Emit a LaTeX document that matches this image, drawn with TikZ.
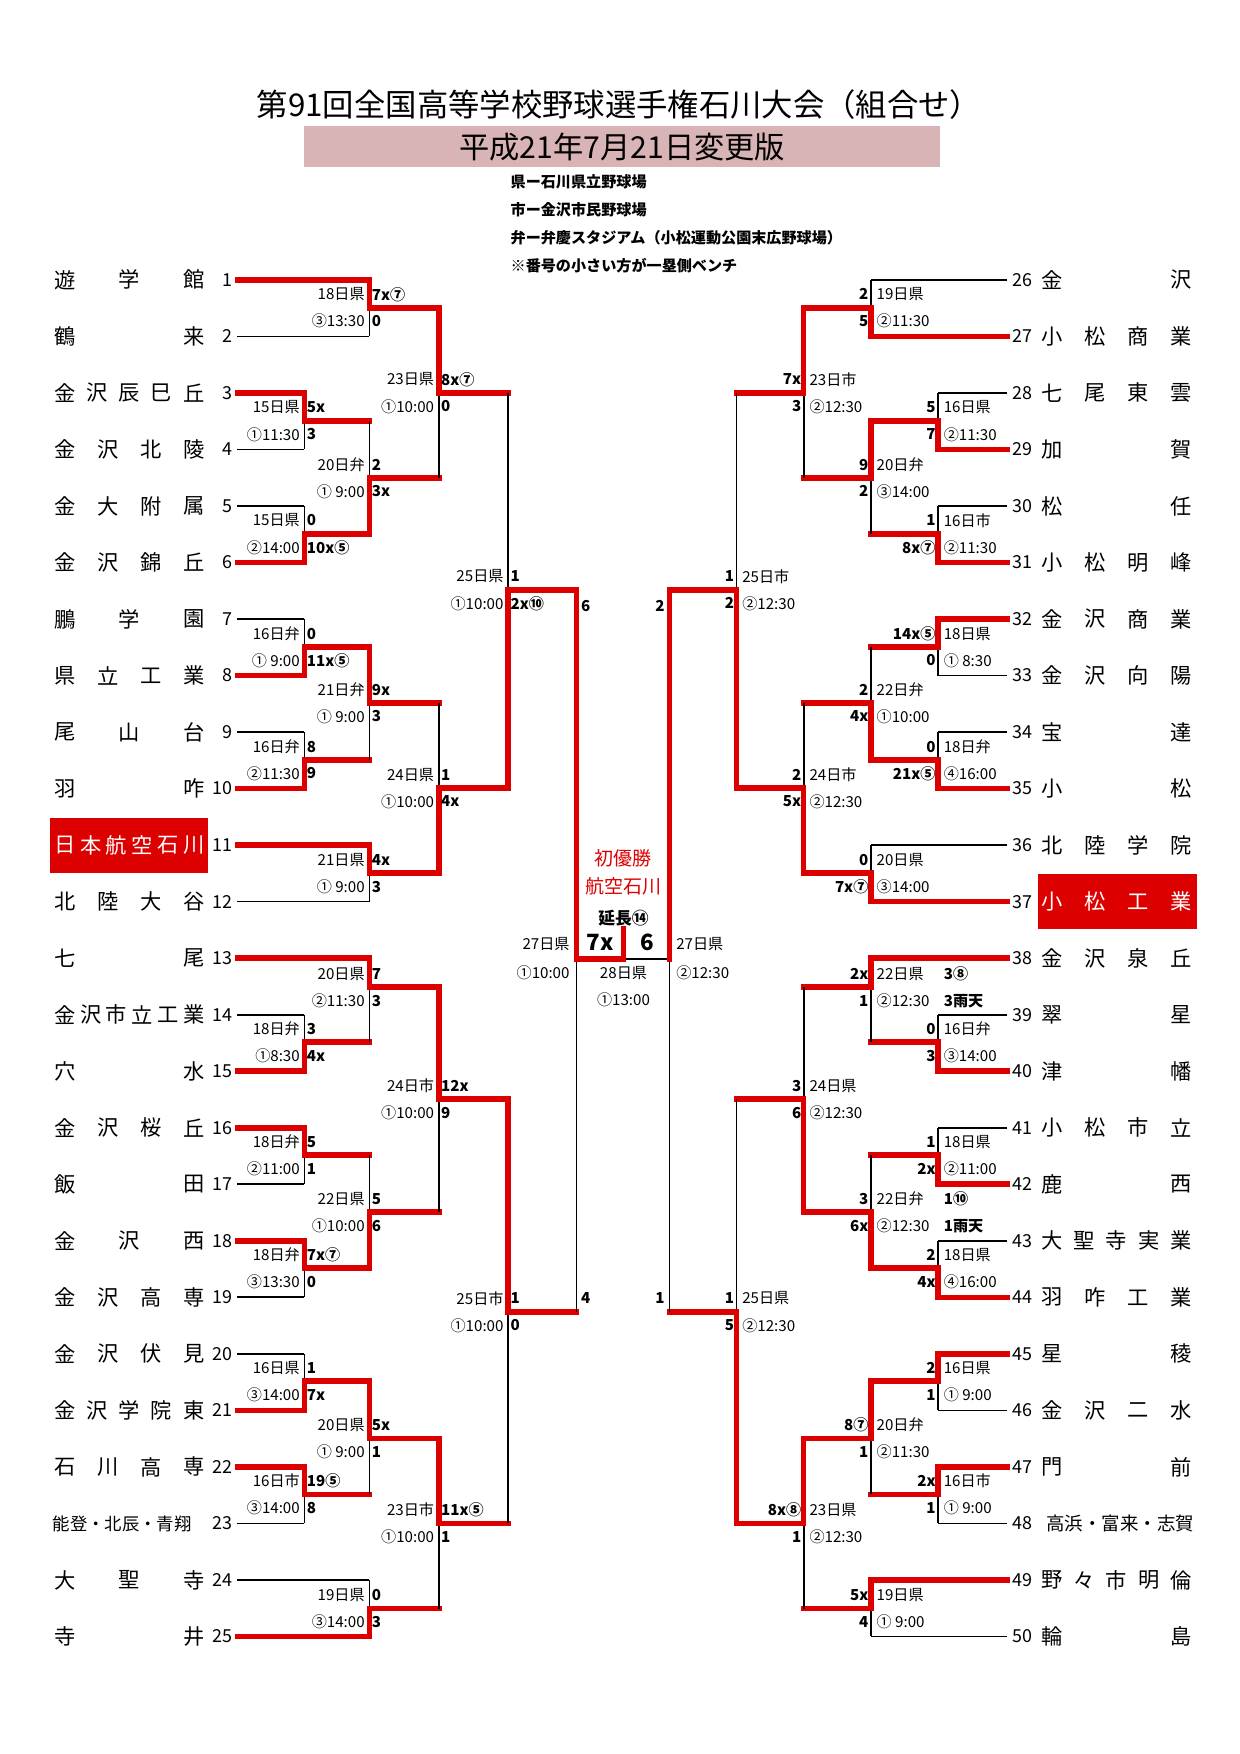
\documentclass[tikz,border=0pt]{standalone}
\usepackage{fontspec}
\setmainfont{Noto Sans CJK JP}
\usetikzlibrary{positioning}
\definecolor{winred}{RGB}{220,0,0}
\definecolor{bandpink}{RGB}{217,180,182}

% one match: name, vertical x, top y, bottom y, out y, out x, winner (t/b)
\newcommand\match[7]{%
  \coordinate (#1t) at (#2,#3);
  \coordinate (#1b) at (#2,#4);
  \coordinate (#1) at (#2,#5);
  \coordinate (#1o) at (#6,#5);
  \draw[thinl] (#1t) -- (#1b);
  \draw[redl] (#1#7) -- (#1) -- (#1o);}
% labels of a left match / right match: name, date, time, top score, bottom score
\newcommand\labL[5]{%
  \node[dlab, anchor=east] (#1d) at ([xshift=-4pt, yshift=12pt]#1) {#2};
  \node[dlab, anchor=east] (#1h) at ([xshift=-4pt, yshift=-12pt]#1) {#3};
  \node[slab, anchor=west] (#1s) at ([xshift=2pt, yshift=12pt]#1) {#4};
  \node[slab, anchor=west] (#1r) at ([xshift=2pt, yshift=-12pt]#1) {#5};}
\newcommand\labR[5]{%
  \node[dlab, anchor=west] (#1d) at ([xshift=5pt, yshift=12pt]#1) {#2};
  \node[dlab, anchor=west] (#1h) at ([xshift=5pt, yshift=-12pt]#1) {#3};
  \node[slab, anchor=east] (#1s) at ([xshift=-2pt, yshift=12pt]#1) {#4};
  \node[slab, anchor=east] (#1r) at ([xshift=-2pt, yshift=-12pt]#1) {#5};}
% team names spread over a fixed width: number, count of chars, chars, colour
\newcommand\teamL[4]{%
  \pgfmathsetmacro\ty{250+(#1-1)*50.5}
  \node[tnum, anchor=east] (nL#1) at (208,\ty) {#1};
  \coordinate (tL#1) at (212,\ty);
  \foreach \c [count=\i from 0] in {#3}
    \node[tname, text=#4] (cL#1-\i) at ({58+\i*115/(#2-1)},\ty) {\c};}
\newcommand\teamR[4]{%
  \pgfmathsetmacro\ty{250+(#1-26)*50.5}
  \node[tnum, anchor=west] (nR#1) at (904,\ty) {#1};
  \coordinate (tR#1) at (900,\ty);
  \foreach \c [count=\i from 0] in {#3}
    \node[tname, text=#4] (cR#1-\i) at ({940+\i*115/(#2-1)},\ty) {\c};}

\begin{document}
\begin{tikzpicture}[x=1pt, y=-1pt,
  thinl/.style={line width=1.5pt, black},
  redl/.style={line width=5pt, winred, line cap=rect, line join=miter},
  tname/.style={font=\fontsize{19}{19}\selectfont, inner sep=0pt},
  tnum/.style={font=\fontsize{16}{16}\selectfont, inner sep=0pt},
  dlab/.style={font=\fontsize{13.5}{13.5}\selectfont, inner sep=0pt},
  slab/.style={font=\fontsize{13.5}{13.5}\selectfont\bfseries, inner sep=0pt},
  note/.style={font=\fontsize{13.5}{13.5}\selectfont\bfseries, anchor=west, inner sep=0pt}
]
  \useasboundingbox (0,0) rectangle (1107,1567);

  % Heading
  \node[font=\fontsize{28}{28}\selectfont] (title) at (553,93) {第91回全国高等学校野球選手権石川大会（組合せ）};
  \fill[bandpink] (272,113) rectangle (840,149);
  \node[font=\fontsize{27}{27}\selectfont] (sub) at (556,131) {平成21年7月21日変更版};
  \node[note] (n1) at (456,162) {県ー石川県立野球場};
  \node[note] (n2) at (456,187) {市ー金沢市民野球場};
  \node[note] (n3) at (456,212) {弁ー弁慶スタジアム（小松運動公園末広野球場）};
  \node[note] (n4) at (456,237) {※番号の小さい方が一塁側ベンチ};

  % Highlight boxes
  \fill[winred] (45,731) rectangle (186,780);
  \fill[winred] (927,781) rectangle (1069,830);

  % Left teams
  \teamL{1}{3}{遊,学,館}{black}
  \teamL{2}{2}{鶴,来}{black}
  \teamL{3}{5}{金,沢,辰,巳,丘}{black}
  \teamL{4}{4}{金,沢,北,陵}{black}
  \teamL{5}{4}{金,大,附,属}{black}
  \teamL{6}{4}{金,沢,錦,丘}{black}
  \teamL{7}{3}{鵬,学,園}{black}
  \teamL{8}{4}{県,立,工,業}{black}
  \teamL{9}{3}{尾,山,台}{black}
  \teamL{10}{2}{羽,咋}{black}
  \teamL{11}{6}{日,本,航,空,石,川}{white}
  \teamL{12}{4}{北,陸,大,谷}{black}
  \teamL{13}{2}{七,尾}{black}
  \teamL{14}{6}{金,沢,市,立,工,業}{black}
  \teamL{15}{2}{穴,水}{black}
  \teamL{16}{4}{金,沢,桜,丘}{black}
  \teamL{17}{2}{飯,田}{black}
  \teamL{18}{3}{金,沢,西}{black}
  \teamL{19}{4}{金,沢,高,専}{black}
  \teamL{20}{4}{金,沢,伏,見}{black}
  \teamL{21}{5}{金,沢,学,院,東}{black}
  \teamL{22}{4}{石,川,高,専}{black}
  \node[tnum, anchor=east] (nL23) at (208,1361) {23};
  \coordinate (tL23) at (212,1361);
  \node[font=\fontsize{15.5}{15.5}\selectfont, anchor=west, inner sep=0pt] (cL23) at (47,1361) {能登・北辰・青翔};
  \teamL{24}{3}{大,聖,寺}{black}
  \teamL{25}{2}{寺,井}{black}

  % Right teams
  \teamR{26}{2}{金,沢}{black}
  \teamR{27}{4}{小,松,商,業}{black}
  \teamR{28}{4}{七,尾,東,雲}{black}
  \teamR{29}{2}{加,賀}{black}
  \teamR{30}{2}{松,任}{black}
  \teamR{31}{4}{小,松,明,峰}{black}
  \teamR{32}{4}{金,沢,商,業}{black}
  \teamR{33}{4}{金,沢,向,陽}{black}
  \teamR{34}{2}{宝,達}{black}
  \teamR{35}{2}{小,松}{black}
  \teamR{36}{4}{北,陸,学,院}{black}
  \teamR{37}{4}{小,松,工,業}{white}
  \teamR{38}{4}{金,沢,泉,丘}{black}
  \teamR{39}{2}{翠,星}{black}
  \teamR{40}{2}{津,幡}{black}
  \teamR{41}{4}{小,松,市,立}{black}
  \teamR{42}{2}{鹿,西}{black}
  \teamR{43}{5}{大,聖,寺,実,業}{black}
  \teamR{44}{4}{羽,咋,工,業}{black}
  \teamR{45}{2}{星,稜}{black}
  \teamR{46}{4}{金,沢,二,水}{black}
  \teamR{47}{2}{門,前}{black}
  \node[tnum, anchor=west] (nR48) at (904,1361) {48};
  \coordinate (tR48) at (900,1361);
  \node[font=\fontsize{16.5}{16.5}\selectfont, anchor=east, inner sep=0pt] (cR48) at (1067,1361) {高浜・富来・志賀};
  \teamR{49}{5}{野,々,市,明,倫}{black}
  \teamR{50}{2}{輪,島}{black}

  % Left matches
  \match{a1}{330}{250}{300.5}{275}{392}{t}
  \match{a2}{272}{351}{401.5}{376}{330}{t}
  \match{a3}{272}{452}{502.5}{477}{330}{b}
  \match{a4}{330}{376}{477}{427}{392}{b}
  \match{a5}{392}{275}{427}{351}{454}{t}
  \match{a6}{272}{553}{603.5}{578}{330}{b}
  \match{a7}{272}{654}{704.5}{679}{330}{b}
  \match{a8}{330}{578}{679}{628}{392}{t}
  \match{a9}{330}{755}{805.5}{780}{392}{t}
  \match{a10}{392}{628}{780}{704}{454}{b}
  \match{a11}{454}{351}{704}{527}{515}{b}
  \match{a12}{272}{906.5}{957}{931}{330}{b}
  \match{a13}{330}{856}{931}{882}{392}{t}
  \match{a14}{272}{1007.5}{1058}{1032}{330}{t}
  \match{a15}{272}{1108.5}{1159}{1133}{330}{t}
  \match{a16}{330}{1032}{1133}{1083}{392}{b}
  \match{a17}{392}{882}{1083}{982}{454}{t}
  \match{a18}{272}{1209.5}{1260}{1234}{330}{b}
  \match{a19}{272}{1310.5}{1361}{1335}{330}{t}
  \match{a20}{330}{1234}{1335}{1285}{392}{t}
  \match{a21}{330}{1411.5}{1462}{1437}{392}{b}
  \match{a22}{392}{1285}{1437}{1361}{454}{t}
  \match{a23}{454}{982}{1361}{1172}{515}{t}
  \labL{a1}{18日県}{③13:30}{7x⑦}{0}
  \labL{a2}{15日県}{①11:30}{5x}{3}
  \labL{a3}{15日県}{②14:00}{0}{10x⑤}
  \labL{a4}{20日弁}{① 9:00}{2}{3x}
  \labL{a5}{23日県}{①10:00}{8x⑦}{0}
  \labL{a6}{16日弁}{① 9:00}{0}{11x⑤}
  \labL{a7}{16日弁}{②11:30}{8}{9}
  \labL{a8}{21日弁}{① 9:00}{9x}{3}
  \labL{a9}{21日県}{① 9:00}{4x}{3}
  \labL{a10}{24日県}{①10:00}{1}{4x}
  \labL{a11}{25日県}{①10:00}{1}{2x⑩}
  \labL{a12}{18日弁}{①8:30}{3}{4x}
  \labL{a13}{20日県}{②11:30}{7}{3}
  \labL{a14}{18日弁}{②11:00}{5}{1}
  \labL{a15}{18日弁}{③13:30}{7x⑦}{0}
  \labL{a16}{22日県}{①10:00}{5}{6}
  \labL{a17}{24日市}{①10:00}{12x}{9}
  \labL{a18}{16日県}{③14:00}{1}{7x}
  \labL{a19}{16日市}{③14:00}{19⑤}{8}
  \labL{a20}{20日県}{① 9:00}{5x}{1}
  \labL{a21}{19日県}{③14:00}{0}{3}
  \labL{a22}{23日市}{①10:00}{11x⑤}{1}
  \labL{a23}{25日市}{①10:00}{1}{0}

  % Right matches
  \match{b1}{778}{250}{300.5}{275}{718}{b}
  \match{b2}{838}{351}{401.5}{376}{778}{b}
  \match{b3}{838}{452}{502.5}{477}{778}{b}
  \match{b4}{778}{376}{477}{427}{718}{t}
  \match{b5}{718}{275}{427}{351}{658}{t}
  \match{b6}{838}{553}{603.5}{578}{778}{t}
  \match{b7}{838}{654}{704.5}{679}{778}{b}
  \match{b8}{778}{578}{679}{628}{718}{b}
  \match{b9}{778}{755}{805.5}{780}{718}{b}
  \match{b10}{718}{628}{780}{704}{658}{b}
  \match{b11}{658}{351}{704}{527}{598}{b}
  \match{b12}{838}{906.5}{957}{931}{778}{b}
  \match{b13}{778}{856}{931}{882}{718}{t}
  \match{b14}{838}{1007.5}{1058}{1032}{778}{b}
  \match{b15}{838}{1108.5}{1159}{1133}{778}{b}
  \match{b16}{778}{1032}{1133}{1083}{718}{b}
  \match{b17}{718}{882}{1083}{982}{658}{b}
  \match{b18}{838}{1209.5}{1260}{1234}{778}{t}
  \match{b19}{838}{1310.5}{1361}{1335}{778}{t}
  \match{b20}{778}{1234}{1335}{1285}{718}{t}
  \match{b21}{778}{1411.5}{1462}{1437}{718}{t}
  \match{b22}{718}{1285}{1437}{1361}{658}{t}
  \match{b23}{658}{982}{1361}{1172}{598}{b}
  \labR{b1}{19日県}{②11:30}{2}{5}
  \labR{b2}{16日県}{②11:30}{5}{7}
  \labR{b3}{16日市}{②11:30}{1}{8x⑦}
  \labR{b4}{20日弁}{③14:00}{9}{2}
  \labR{b5}{23日市}{②12:30}{7x}{3}
  \labR{b6}{18日県}{① 8:30}{14x⑤}{0}
  \labR{b7}{18日弁}{④16:00}{0}{21x⑤}
  \labR{b8}{22日弁}{①10:00}{2}{4x}
  \labR{b9}{20日県}{③14:00}{0}{7x⑦}
  \labR{b10}{24日市}{②12:30}{2}{5x}
  \labR{b11}{25日市}{②12:30}{1}{2}
  \labR{b12}{16日弁}{③14:00}{0}{3}
  \labR{b13}{22日県}{②12:30}{2x}{1}
  \labR{b14}{18日県}{②11:00}{1}{2x}
  \labR{b15}{18日県}{④16:00}{2}{4x}
  \labR{b16}{22日弁}{②12:30}{3}{6x}
  \labR{b17}{24日県}{②12:30}{3}{6}
  \labR{b18}{16日県}{① 9:00}{2}{1}
  \labR{b19}{16日市}{① 9:00}{2x}{1}
  \labR{b20}{20日弁}{②11:30}{8⑦}{1}
  \labR{b21}{19日県}{① 9:00}{5x}{4}
  \labR{b22}{23日県}{②12:30}{8x⑧}{1}
  \labR{b23}{25日県}{②12:30}{1}{5}
  \node[slab, anchor=west] (x13a) at (843,870) {3⑧};
  \node[slab, anchor=west] (x13b) at (843,894) {3雨天};
  \node[slab, anchor=west] (x16a) at (843,1071) {1⑩};
  \node[slab, anchor=west] (x16b) at (843,1095) {1雨天};

  % Team lines
  \foreach \k/\m/\s in {1/a1t/redl, 2/a1b/thinl, 3/a2t/redl, 4/a2b/thinl, 5/a3t/thinl, 6/a3b/redl,
      7/a6t/thinl, 8/a6b/redl, 9/a7t/thinl, 10/a7b/redl, 11/a9t/redl, 12/a9b/thinl, 13/a13t/redl,
      14/a12t/thinl, 15/a12b/redl, 16/a14t/redl, 17/a14b/thinl, 18/a15t/redl, 19/a15b/thinl,
      20/a18t/thinl, 21/a18b/redl, 22/a19t/redl, 23/a19b/thinl, 24/a21t/thinl, 25/a21b/redl}
    \draw[\s] (tL\k) -- (\m);
  \foreach \k/\m/\s in {26/b1t/thinl, 27/b1b/redl, 28/b2t/thinl, 29/b2b/redl, 30/b3t/thinl, 31/b3b/redl,
      32/b6t/redl, 33/b6b/thinl, 34/b7t/thinl, 35/b7b/redl, 36/b9t/thinl, 37/b9b/redl, 38/b13t/redl,
      39/b12t/thinl, 40/b12b/redl, 41/b14t/thinl, 42/b14b/redl, 43/b15t/thinl, 44/b15b/redl,
      45/b18t/redl, 46/b18b/thinl, 47/b19t/redl, 48/b19b/thinl, 49/b21t/redl, 50/b21b/thinl}
    \draw[\s] (tR\k) -- (\m);

  % Semi-finals and final
  \match{sL}{515}{527}{1172}{857}{557}{t}
  \coordinate (sRt) at (598,527);
  \coordinate (sRb) at (598,1172);
  \coordinate (sR) at (598,857);
  \coordinate (fin) at (557,857);
  \coordinate (fint) at (557,830);
  \draw[thinl] (sRt) -- (sRb);
  \draw[thinl] (sR) -- (fin);
  \draw[redl] (sRt) -- (sR);
  \draw[redl] (fin) -- (fint);
  \node[slab, anchor=west] (sLs) at (519,541) {6};
  \node[slab, anchor=west] (sLr) at (519,1160) {4};
  \node[slab, anchor=east] (sRs) at (594,541) {2};
  \node[slab, anchor=east] (sRr) at (594,1160) {1};
  \node[dlab, anchor=east] (sLd) at (509,843) {27日県};
  \node[dlab, anchor=east] (sLh) at (509,869) {①10:00};
  \node[dlab, anchor=west] (sRd) at (604,843) {27日県};
  \node[dlab, anchor=west] (sRh) at (604,869) {②12:30};
  \node[dlab] (find) at (557,869) {28日県};
  \node[dlab] (finh) at (557,893) {①13:00};
  \node[font=\fontsize{17}{17}\selectfont, text=winred, inner sep=0pt] (champ) at (557,767) {初優勝};
  \node[font=\fontsize{17}{17}\selectfont, text=winred, inner sep=0pt] (champn) at (557,792) {航空石川};
  \node[font=\fontsize{15}{15}\selectfont\bfseries, inner sep=0pt] (extra) at (557,820) {延長⑭};
  \node[font=\fontsize{20}{20}\selectfont\bfseries, inner sep=0pt] (finL) at (536,842) {7x};
  \node[font=\fontsize{20}{20}\selectfont\bfseries, inner sep=0pt] (finR) at (578,842) {6};
\end{tikzpicture}
\end{document}
